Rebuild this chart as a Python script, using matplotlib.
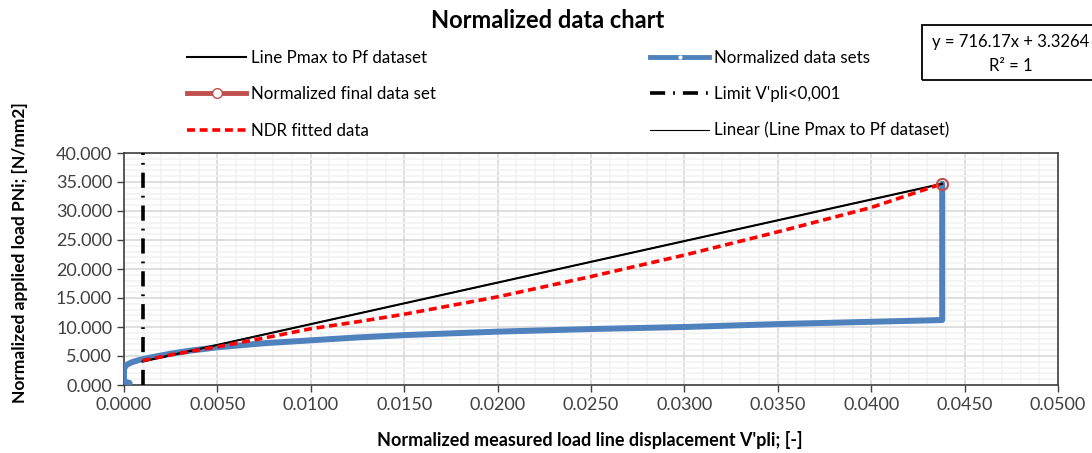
import numpy as np
import matplotlib
matplotlib.use("Agg")
import matplotlib.pyplot as plt
from matplotlib.lines import Line2D
from matplotlib.patches import Rectangle
from matplotlib.ticker import MultipleLocator, FormatStrFormatter

plt.rcParams['font.family'] = ['Lato', 'DejaVu Sans']

# normalized data sets (blue)
data_x = [0.0003, 0.0, 0.0, 0.0001, 0.0004, 0.0008, 0.0015, 0.0025, 0.0035, 0.0050,
          0.0075, 0.0100, 0.0125, 0.0150, 0.0175, 0.0200, 0.0250, 0.0300, 0.0350,
          0.0400, 0.0438, 0.0438]
data_y = [0.35, 0.6, 2.7, 3.4, 3.9, 4.3, 4.8, 5.4, 5.9, 6.5,
          7.2, 7.7, 8.2, 8.6, 8.9, 9.2, 9.65, 10.0, 10.5,
          10.9, 11.2, 34.7]

# NDR fitted data (red dashed)
ndr_x = [0.0010, 0.0025, 0.0050, 0.0075, 0.0100, 0.0125, 0.0150, 0.0175, 0.0200,
         0.0250, 0.0300, 0.0350, 0.0400, 0.0438]
ndr_y = [4.2, 5.2, 6.6, 8.1, 9.7, 10.9, 12.2, 13.7, 15.2,
         18.7, 22.4, 26.4, 30.6, 34.7]

# line Pmax to Pf
pmax_x = [0.0010, 0.0438]
pmax_y = [4.05, 34.70]

# final point
final_x = [0.0438]
final_y = [34.7]

# limit V'pli < 0,001
limit_x = [0.001, 0.001]
limit_y = [0.0, 40.0]

blue = '#4F81BD'
brick = '#C0504D'
dashdot = (0, (4.2, 2.2, 0.5, 2.2))

fig = plt.figure(figsize=(10.92, 4.53), dpi=100)
ax = fig.add_axes([124/1092, 1-385/453, (1058-124)/1092, (385-153)/453])

ax.plot(limit_x, limit_y, color='black', lw=2.6, linestyle=dashdot, zorder=3)
ax.plot(data_x, data_y, color=blue, lw=4.3, solid_joinstyle='round', solid_capstyle='round', zorder=4)
ax.plot(pmax_x, pmax_y, color='black', lw=1.5, zorder=5)
# linear trendline of the Pmax-Pf line
k, b = np.polyfit(pmax_x, pmax_y, 1)
tx = np.array([min(pmax_x), max(pmax_x)])
ax.plot(tx, k*tx + b, color='black', lw=0.8, zorder=6)
ax.plot(ndr_x, ndr_y, color='red', lw=2.6, linestyle=(0, (2.2, 1.3)), zorder=7)
ax.plot(final_x, final_y, linestyle='none', marker='o', ms=8, mfc='none', mec=brick, mew=1.5, zorder=8)

ax.set_xlim(0, 0.05)
ax.set_ylim(0, 40)
ax.xaxis.set_major_locator(MultipleLocator(0.005))
ax.xaxis.set_minor_locator(MultipleLocator(0.001))
ax.yaxis.set_major_locator(MultipleLocator(5))
ax.yaxis.set_minor_locator(MultipleLocator(1))
ax.xaxis.set_major_formatter(FormatStrFormatter('%.4f'))
ax.yaxis.set_major_formatter(FormatStrFormatter('%.3f'))
ax.grid(which='major', color='#D9D9D9', lw=1.2)
ax.grid(which='minor', color='#F2F2F2', lw=1.2)
ax.set_axisbelow(True)
ax.tick_params(which='major', direction='out', length=5, width=1, colors='#404040', labelsize=13, labelcolor='#404040')
ax.tick_params(which='minor', length=0)
for s in ax.spines.values():
    s.set_color('#404040')
    s.set_linewidth(1.2)

fig.text(548/1092, 1-20/453, 'Normalized data chart', ha='center', va='center',
         fontsize=17, fontweight='bold')
fig.text(20/1092, 1-253/453, 'Normalized applied load PNi; [N/mm2]', ha='center', va='center',
         rotation=90, fontsize=12.5, fontweight='bold')
fig.text(590/1092, 1-440/453, "Normalized measured load line displacement V'pli; [-]", ha='center',
         va='center', fontsize=13, fontweight='bold')

handles = [
    Line2D([], [], color='black', lw=1.5),
    Line2D([], [], color=brick, lw=3.5, marker='o', ms=7, mfc='white', mec=brick),
    Line2D([], [], color='red', lw=2.6, linestyle=(0, (2.2, 1.3))),
    Line2D([], [], color=blue, lw=3.5, marker='o', ms=2, mfc='white', mec='white'),
    Line2D([], [], color='black', lw=2.6, linestyle=dashdot),
    Line2D([], [], color='black', lw=0.8),
]
labels = ['Line Pmax to Pf dataset', 'Normalized final data set', 'NDR fitted data',
          'Normalized data sets', "Limit V'pli<0,001", 'Linear (Line Pmax to Pf dataset)']
fig.legend(handles, labels, ncol=2, loc='upper left', bbox_to_anchor=(187/1092, 1-50/453),
           frameon=False, fontsize=12.2, handlelength=3.5, handletextpad=0.3,
           labelspacing=1.2, columnspacing=12.6, borderpad=0, borderaxespad=0)

# trendline equation box
fig.patches.append(Rectangle((922/1092, 1-80/453), 200/1092, 55/453, transform=fig.transFigure,
                             fill=False, edgecolor='black', lw=1.3))
fig.text(1011/1092, 1-42/453, 'y = 716.17x + 3.3264', ha='center', va='center', fontsize=12)
fig.text(1011/1092, 1-66/453, 'R² = 1', ha='center', va='center', fontsize=12)

fig.savefig('out.png', dpi=100)
